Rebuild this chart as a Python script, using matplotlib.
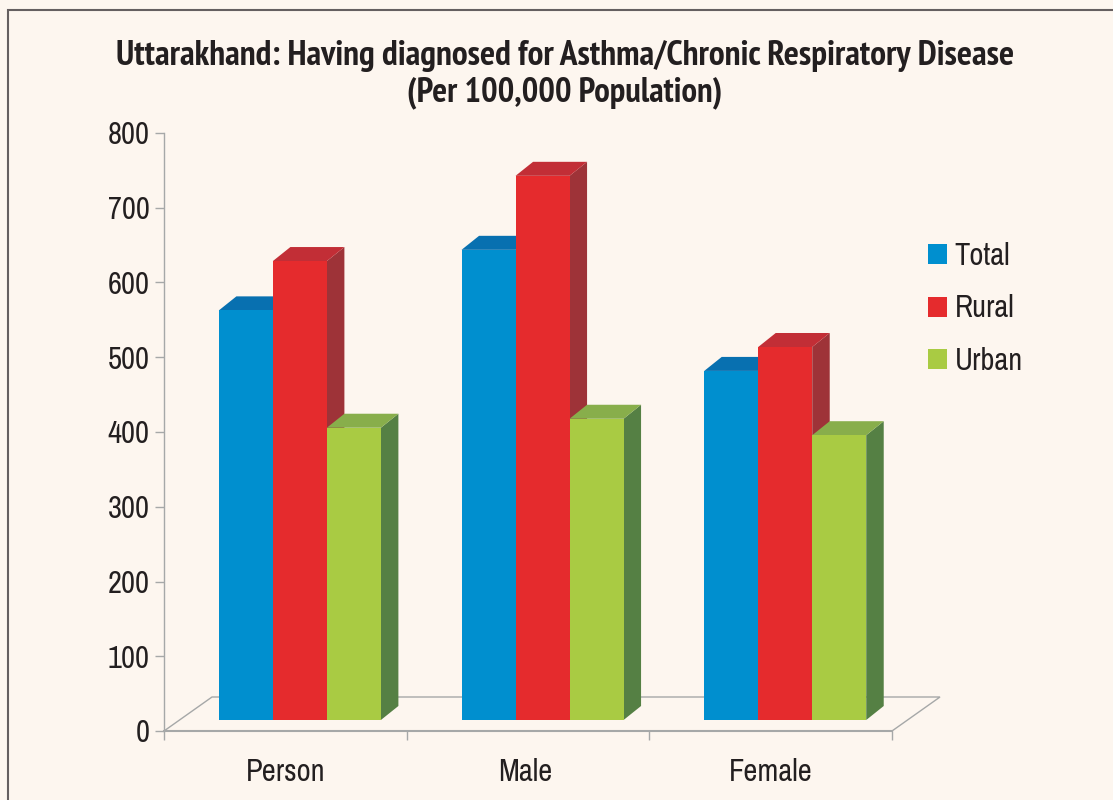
from matplotlib import pyplot as plt
from matplotlib.patches import Polygon, Rectangle, Patch

categories = ["Person", "Male", "Female"]
series_names = ["Total", "Rural", "Urban"]
total = [548, 629, 467]
rural = [614, 728, 499]
urban = [391, 403, 381]
y_ticks = [0, 100, 200, 300, 400, 500, 600, 700, 800]

front_colors = ["#008fcf", "#e52b2d", "#a9cb43"]
top_colors = ["#0870b0", "#c22e36", "#88ae4b"]
side_colors = ["#0a5f95", "#9e3338", "#558044"]

W, H = 1113, 800
BG = "#fdf6ef"
AXIS = "#a6a8a8"
TEXT = "#231f20"
plt.rcParams['font.family'] = ['Archivo Narrow', 'Roboto Condensed', 'Liberation Sans', 'DejaVu Sans']
TITLE_FONT = ['PT Sans Narrow', 'Roboto Condensed', 'Liberation Sans', 'DejaVu Sans']

fig = plt.figure(figsize=(W / 100, H / 100), dpi=100, facecolor=BG)
# axes box is the front edge of the floor: x 164-892, y 731-133
ax = fig.add_axes([164 / W, 1 - 731 / H, 728 / W, 598 / H])
ax.set_xlim(0, 3)
ax.set_ylim(0, 800)
ax.patch.set_visible(False)

# size of one pixel in data units
px = 3 / 728
py = 800 / 598

# floor of the fake 3d box
floor = [(0, 0), (48 * px, 34 * py), (3 + 48 * px, 34 * py), (3, 0)]
ax.add_patch(Polygon(floor, closed=True, fc=BG, ec=AXIS, lw=1, clip_on=False, zorder=1))

bar_w = 54 * px
base = 11 * py
dx = 17.5 * px
dy = 14 * py

# draw back to front so that each bar covers the side of its left neighbour
for g in range(len(categories)):
    left = g + 0.56 - 1.5 * bar_w
    for s, values in enumerate([total, rural, urban]):
        x0 = left + s * bar_w
        x1 = x0 + bar_w
        top = base + values[g]
        ax.add_patch(Polygon([(x1, base), (x1 + dx, base + dy), (x1 + dx, top + dy), (x1, top)],
                             closed=True, fc=side_colors[s], lw=0, clip_on=False, zorder=2 + s))
        ax.add_patch(Polygon([(x0, top), (x0 + dx, top + dy), (x1 + dx, top + dy), (x1, top)],
                             closed=True, fc=top_colors[s], lw=0, clip_on=False, zorder=2 + s))
        ax.add_patch(Rectangle((x0, base), bar_w, values[g], fc=front_colors[s], lw=0,
                               clip_on=False, zorder=2 + s))

for name in ['top', 'right']:
    ax.spines[name].set_visible(False)
for name in ['left', 'bottom']:
    ax.spines[name].set_color(AXIS)
ax.spines['left'].set_linewidth(1)
ax.spines['bottom'].set_linewidth(1.5)
ax.spines['bottom'].set_zorder(1.5)

ax.set_yticks(y_ticks)
ax.set_xticks([0, 1, 2, 3])
ax.set_xticklabels([])
ax.set_xticks([0.5, 1.49, 2.5], labels=categories, minor=True)
ax.tick_params(axis='y', length=6.5, width=1, color=AXIS, labelsize=22, labelcolor=TEXT, pad=4)
ax.tick_params(axis='x', which='major', length=6.5, width=1, color=AXIS)
ax.tick_params(axis='x', which='minor', length=0, labelsize=22, labelcolor=TEXT, pad=19.5)

fig.text(565 / W, 1 - 56 / H, "Uttarakhand: Having diagnosed for Asthma/Chronic Respiratory Disease",
         ha='center', va='center', fontsize=25.5, fontweight='bold', color=TEXT, family=TITLE_FONT)
fig.text(565 / W, 1 - 93 / H, "(Per 100,000 Population)",
         ha='center', va='center', fontsize=25, fontweight='bold', color=TEXT, family=TITLE_FONT)

handles = [Patch(fc=c, lw=0) for c in front_colors]
fig.legend(handles, series_names, loc='upper left', bbox_to_anchor=(928 / W, 1 - 242 / H),
           frameon=False, fontsize=22, labelcolor=TEXT, handlelength=0.62, handleheight=0.62,
           handletextpad=0.25, labelspacing=0.8, borderpad=0, borderaxespad=0)

# outer frame
fig.add_artist(Rectangle((8 / W, -0.01), 1.1, 1 - 10 / H + 0.01, transform=fig.transFigure,
                         fill=False, ec="#655f60", lw=1.5))

fig.savefig("out.png", dpi=100, facecolor=BG)
